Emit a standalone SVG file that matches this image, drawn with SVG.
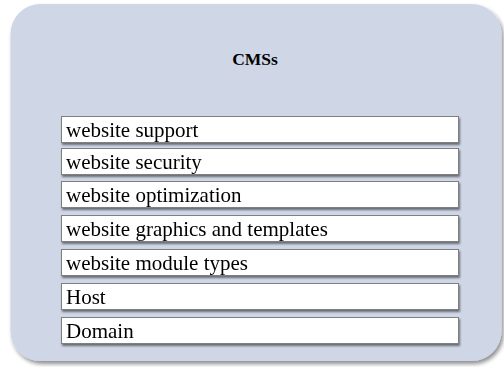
<svg xmlns="http://www.w3.org/2000/svg" width="504" height="367" viewBox="0 0 504 367">
<defs>
<filter id="sh" x="-10%" y="-10%" width="125%" height="125%">
<feGaussianBlur in="SourceAlpha" stdDeviation="2"/>
<feOffset dx="2" dy="3" result="b"/>
<feComponentTransfer><feFuncA type="linear" slope="0.45"/></feComponentTransfer>
<feMerge><feMergeNode/><feMergeNode in="SourceGraphic"/></feMerge>
</filter>
<filter id="bs" x="-5%" y="-30%" width="110%" height="180%">
<feGaussianBlur in="SourceAlpha" stdDeviation="1"/>
<feOffset dx="1" dy="2"/>
<feComponentTransfer><feFuncA type="linear" slope="0.5"/></feComponentTransfer>
<feMerge><feMergeNode/><feMergeNode in="SourceGraphic"/></feMerge>
</filter>
</defs>
<style>
.item rect{fill:#ffffff;stroke:#7f7f7f;stroke-width:1}
.item text{font-family:"Liberation Serif","Times New Roman",serif;font-size:21px;fill:#000}
.title{font-family:"Liberation Serif","Times New Roman",serif;font-size:17.5px;font-weight:bold;fill:#000}
</style>
<rect width="504" height="367" fill="#ffffff"/>
<g id="container" filter="url(#sh)">
<rect x="10.5" y="4" width="491" height="357" rx="30" ry="30" fill="#cfd6e6"/>
</g>
<text class="title" x="255" y="64.5" text-anchor="middle">CMSs</text>
<g id="item1" class="item" filter="url(#bs)"><rect x="61.5" y="116.5" width="397" height="26"/><text x="66" y="137">website support</text></g>
<g id="item2" class="item" filter="url(#bs)"><rect x="61.5" y="148.5" width="397" height="26"/><text x="66" y="169">website security</text></g>
<g id="item3" class="item" filter="url(#bs)"><rect x="61.5" y="181.5" width="397" height="26"/><text x="66" y="202">website optimization</text></g>
<g id="item4" class="item" filter="url(#bs)"><rect x="61.5" y="215.5" width="397" height="26"/><text x="66" y="236">website graphics and templates</text></g>
<g id="item5" class="item" filter="url(#bs)"><rect x="61.5" y="249.5" width="397" height="26"/><text x="66" y="270">website module types</text></g>
<g id="item6" class="item" filter="url(#bs)"><rect x="61.5" y="283.5" width="397" height="26"/><text x="66" y="304">Host</text></g>
<g id="item7" class="item" filter="url(#bs)"><rect x="61.5" y="317.5" width="397" height="26"/><text x="66" y="338">Domain</text></g>
<g id="connectors"/>
</svg>
